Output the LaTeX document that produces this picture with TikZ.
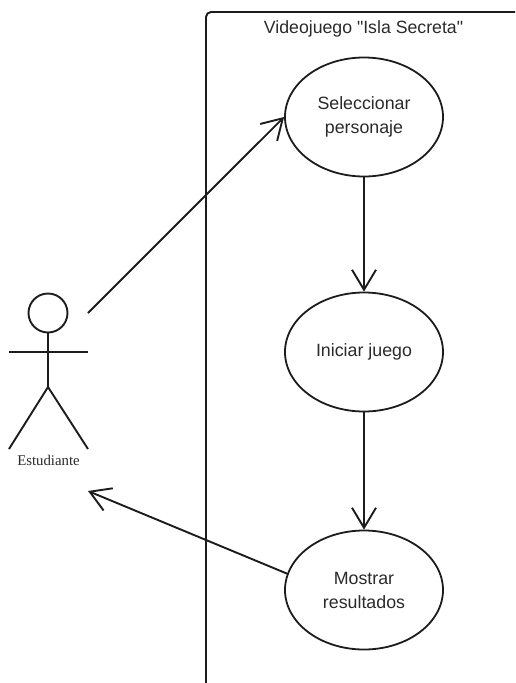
\documentclass[tikz,border=0pt]{standalone}
\usepackage{fontspec}
\newfontfamily\bodyfont{Liberation Sans}
\newfontfamily\labelfont{Liberation Serif}
\usetikzlibrary{shapes.geometric,arrows.meta}
\definecolor{inkline}{HTML}{1C1C1C}
\definecolor{inktext}{HTML}{2A2A2A}
\tikzset{
  usecase/.style={ellipse, draw=inkline, line width=1.8pt, inner sep=0pt,
    minimum width=158pt, minimum height=119pt, align=center, text=inktext,
    font=\bodyfont\fontsize{17.8}{24}\selectfont},
  actorline/.style={draw=inkline, line width=1.9pt},
  flow/.style={draw=inkline, line width=1.9pt, -{Straight Barb[length=20pt,width=24pt,line width=1.9pt]}},
}
\begin{document}
\begin{tikzpicture}[x=1pt,y=-1pt]
\useasboundingbox (0,0) rectangle (515,683);
% system boundary
\draw[actorline, rounded corners=5pt] (206,683) -- (206,12) -- (515,12);
\node[text=inktext, font=\bodyfont\fontsize{17.7}{20}\selectfont] (title) at (363.5,29){Videojuego "Isla Secreta"};
% use cases
\node[usecase] (sel) at (364,117){Seleccionar\\personaje};
\node[usecase] (ini) at (364,352){Iniciar juego};
\node[usecase] (res) at (364,590){Mostrar\\resultados};
% actor
\node[circle, actorline, inner sep=0pt, minimum size=39pt] (head) at (48,313){};
\coordinate (hip) at (48,387);
\coordinate (armL) at (9,352);
\coordinate (armR) at (88,352);
\coordinate (legL) at (9,449);
\coordinate (legR) at (88,449);
\coordinate (out) at (88,313);
\coordinate (back) at (88,491);
\draw[actorline](head.south) -- (hip);
\draw[actorline](armL) -- (armR);
\draw[actorline](hip) -- (legL);
\draw[actorline](hip) -- (legR);
\node[text=inktext, font=\labelfont\fontsize{14.8}{16}\selectfont] (estudiante) at (48.5,460){Estudiante};
% connectors
\draw[flow](out) -- (sel.west);
\draw[flow](sel.south) -- (ini.north);
\draw[flow](ini.south) -- (res.north);
\draw[flow](res.168) -- (back);
\end{tikzpicture}
\end{document}
